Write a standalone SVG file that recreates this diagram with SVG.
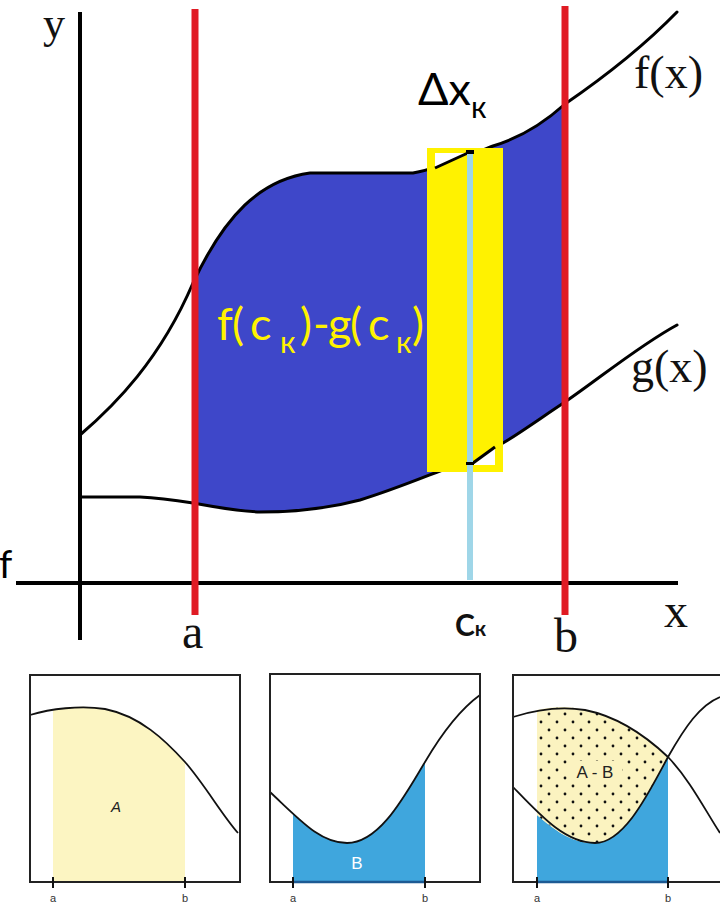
<svg xmlns="http://www.w3.org/2000/svg" width="720" height="906" viewBox="0 0 720 906">
<style>
.serif{font-family:"Liberation Serif","Times New Roman",serif;fill:#111}
.sans{font-family:Lato,"Open Sans","Liberation Sans",sans-serif}
.curve{fill:none;stroke:#000;stroke-width:3;stroke-linecap:round;stroke-linejoin:round}
.axis{stroke:#000;stroke-width:4}
.red{stroke:#e01b24;stroke-width:7}
.box{fill:none;stroke:#222;stroke-width:2}
.sc{fill:none;stroke:#111;stroke-width:1.8}
.tick{stroke:#111;stroke-width:2}
.lab{font-family:"Liberation Sans",Arial,sans-serif;font-size:11px;fill:#333;text-anchor:middle}
</style>
<defs>
<pattern id="dots" width="16" height="16" patternUnits="userSpaceOnUse" x="537" y="702">
<rect width="16" height="16" fill="#fbf3c0"/>
<circle cx="4" cy="4" r="1.4" fill="#111"/>
<circle cx="12" cy="12" r="1.4" fill="#111"/>
</pattern>
</defs>
<rect width="720" height="906" fill="#fff"/>

<g id="main-plot">
<path id="area" d="M193,283 C225,215 260,180 310,173 L413,173 C440,168 470,155 493,146 C520,138 545,122 565,104 L565,402 C530,425 500,448 470,460 C440,470 400,488 360,500 C330,508 300,512 260,512 C235,511 215,507 193,503 Z" fill="#3e47c9"/>
<g id="axes">
<line class="axis" x1="80" y1="12" x2="80" y2="640"/>
<line class="axis" x1="16" y1="583" x2="678" y2="583"/>
</g>
<g id="curves">
<path id="f-curve" class="curve" d="M80,435 C115,405 160,360 193,283 C225,215 260,180 310,173 L413,173 C440,168 470,155 493,146 C520,138 545,122 565,104 C600,80 640,50 677,12"/>
<path id="g-curve" class="curve" d="M80,497 L140,497 C160,498 180,501 193,503 C215,507 235,511 260,512 C300,512 330,508 360,500 C400,488 440,470 470,460 C500,448 530,425 565,402 C600,378 640,345 677,325"/>
</g>
<g id="strip">
<rect x="427" y="148" width="76" height="324" fill="#fff200"/>
<polygon points="435,153 470,153 435,168" fill="#fff"/>
<polygon points="473,465 495,465 495,447" fill="#fff"/>
<line x1="435" y1="168" x2="470" y2="152" stroke="#000" stroke-width="3"/>
<line x1="473" y1="463" x2="495" y2="447" stroke="#000" stroke-width="3"/>
<line x1="470" y1="150" x2="470" y2="580" stroke="#9fd6e8" stroke-width="6"/>
<rect x="466" y="150" width="8" height="4" fill="#000"/>
<rect x="466" y="462" width="8" height="3" fill="#000"/>
</g>
<g id="bounds">
<line class="red" x1="195" y1="9" x2="195" y2="615"/>
<line class="red" x1="565" y1="6" x2="565" y2="615"/>
</g>
<g id="labels">
<text class="serif" x="43" y="38" font-size="44">y</text>
<text class="serif" x="182" y="648" font-size="48">a</text>
<text class="serif" x="554" y="652" font-size="48">b</text>
<text class="serif" x="664" y="627" font-size="48">x</text>
<text class="serif" x="634" y="88" font-size="46">f(x)</text>
<text class="serif" x="631" y="382" font-size="46">g(x)</text>
<text class="sans" x="-1" y="578" font-size="38" fill="#000">f</text>
<text class="sans" x="418" y="105" font-size="45" fill="#000">Δx<tspan font-size="30" dy="13">к</tspan></text>
<text class="sans" x="455" y="636" font-size="30" font-weight="bold" fill="#111">C<tspan font-size="21">к</tspan></text>
<text class="sans" y="340" font-size="45" fill="#fff200"><tspan x="217 232 250">f(c</tspan><tspan x="280" y="353" font-size="30">к</tspan><tspan x="300 313 328 350 368" y="340">)-g(c</tspan><tspan x="396" y="353" font-size="30">к</tspan><tspan x="412" y="340">)</tspan></text>
</g>
</g>

<g id="panel-A">
<path d="M53,882 L53,710 C70,706 90,706 105,709 C140,716 165,740 185,762 L185,882 Z" fill="#fcf5c2"/>
<path class="sc" d="M30,715 C50,709 80,705 105,709 C140,716 165,740 185,762 C205,785 222,815 238,833"/>
<rect class="box" x="30" y="675" width="210" height="207"/>
<line class="tick" x1="53" y1="877" x2="53" y2="888"/>
<line class="tick" x1="185" y1="877" x2="185" y2="888"/>
<text class="lab" x="53" y="902">a</text>
<text class="lab" x="185" y="902">b</text>
<text x="116" y="812" font-family="Liberation Sans,Arial,sans-serif" font-size="15" font-style="italic" fill="#222" text-anchor="middle">A</text>
</g>

<g id="panel-B">
<path d="M293,882 L293,814 C312,832 330,843 347,843 C380,843 405,795 425,762 L425,882 Z" fill="#3fa6dd"/>
<path class="sc" d="M270,792 C300,820 320,843 347,843 C380,843 405,795 425,762 C445,728 462,708 480,695"/>
<rect class="box" x="270" y="674" width="210" height="208"/>
<line x1="293" y1="882" x2="425" y2="882" stroke="#1d5a93" stroke-width="2.5"/>
<line class="tick" x1="293" y1="877" x2="293" y2="888"/>
<line class="tick" x1="425" y1="877" x2="425" y2="888"/>
<text class="lab" x="293" y="902">a</text>
<text class="lab" x="425" y="902">b</text>
<text x="357" y="869" font-family="Liberation Sans,Arial,sans-serif" font-size="17" fill="#fff" text-anchor="middle">B</text>
</g>

<g id="panel-AB">
<path d="M537,882 L537,815 C560,835 575,843 595,843 C625,843 650,790 668,757 L668,882 Z" fill="#3fa6dd"/>
<path d="M537,710 C555,706 570,706 585,710 C620,717 648,738 668,757 C650,790 625,843 595,843 C575,843 560,835 537,815 Z" fill="url(#dots)"/>
<rect x="568" y="761" width="54" height="21" fill="#fbf3c0"/>
<path class="sc" d="M513,717 C535,710 560,706 585,710 C620,717 648,738 668,757 C690,780 705,810 720,833"/>
<path class="sc" d="M513,787 C540,815 565,843 595,843 C625,843 650,790 668,757 C685,727 700,705 720,697"/>
<rect class="box" x="513" y="675" width="220" height="207"/>
<line x1="537" y1="882" x2="668" y2="882" stroke="#1d5a93" stroke-width="2.5"/>
<line class="tick" x1="537" y1="877" x2="537" y2="888"/>
<line class="tick" x1="668" y1="877" x2="668" y2="888"/>
<text class="lab" x="537" y="902">a</text>
<text class="lab" x="668" y="902">b</text>
<text x="595" y="778" font-family="Liberation Sans,Arial,sans-serif" font-size="17" fill="#222" text-anchor="middle">A - B</text>
</g>
</svg>
